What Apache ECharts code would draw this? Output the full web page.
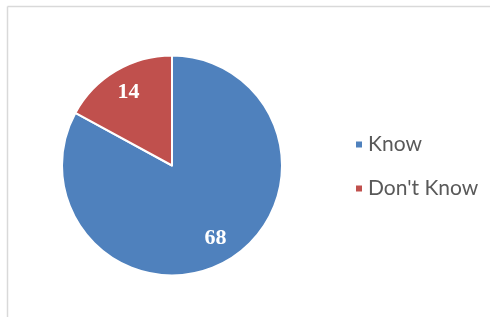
<!DOCTYPE html>
<html><head><meta charset="utf-8">
<script src="https://cdn.jsdelivr.net/npm/echarts@6/dist/echarts.min.js"></script>
<style>html,body{margin:0;padding:0;background:#fff}#c{width:490px;height:317px}</style>
</head><body><div id="c"></div>
<script>
const categories = ['Know', "Don't Know"];
const values = [68, 14];
const colors = ['#4F81BD', '#C0504D'];

const data = categories.map((n, i) => ({ name: n, value: values[i], itemStyle: { color: colors[i] } }));
const chart = echarts.init(document.getElementById('c'), null, { renderer: 'canvas' });
chart.setOption({
  animation: false,
  graphic: [
    { type: 'line', shape: { x1: 7.5, y1: 6.5, x2: 490, y2: 6.5 }, style: { stroke: '#d9d9d9', lineWidth: 1.5 } },
    { type: 'line', shape: { x1: 7.5, y1: 6.5, x2: 7.5, y2: 317 }, style: { stroke: '#d9d9d9', lineWidth: 1.5 } }
  ],
  legend: {
    orient: 'vertical', left: 349, top: 129, itemGap: 23,
    icon: 'rect', itemWidth: 8, itemHeight: 8,
    textStyle: { fontFamily: 'Lato', fontSize: 21, color: '#595959' },
    data: categories
  },
  series: [
    {
      type: 'pie', center: [172, 165.5], radius: [0, 110], startAngle: 90, clockwise: true,
      data: data, label: { show: false }, labelLine: { show: false },
      itemStyle: { borderColor: '#fff', borderWidth: 2 }
    },
    {
      type: 'pie', center: [172, 165.5], radius: [54, 110], startAngle: 90, clockwise: true, silent: true,
      data: categories.map((n, i) => ({ name: n, value: values[i] })),
      itemStyle: { color: 'rgba(0,0,0,0)' },
      label: { show: true, position: 'inside', formatter: '{c}', color: '#fff', fontFamily: 'Liberation Serif', fontWeight: 'bold', fontSize: 22 },
      labelLine: { show: false }
    }
  ]
});
</script></body></html>
